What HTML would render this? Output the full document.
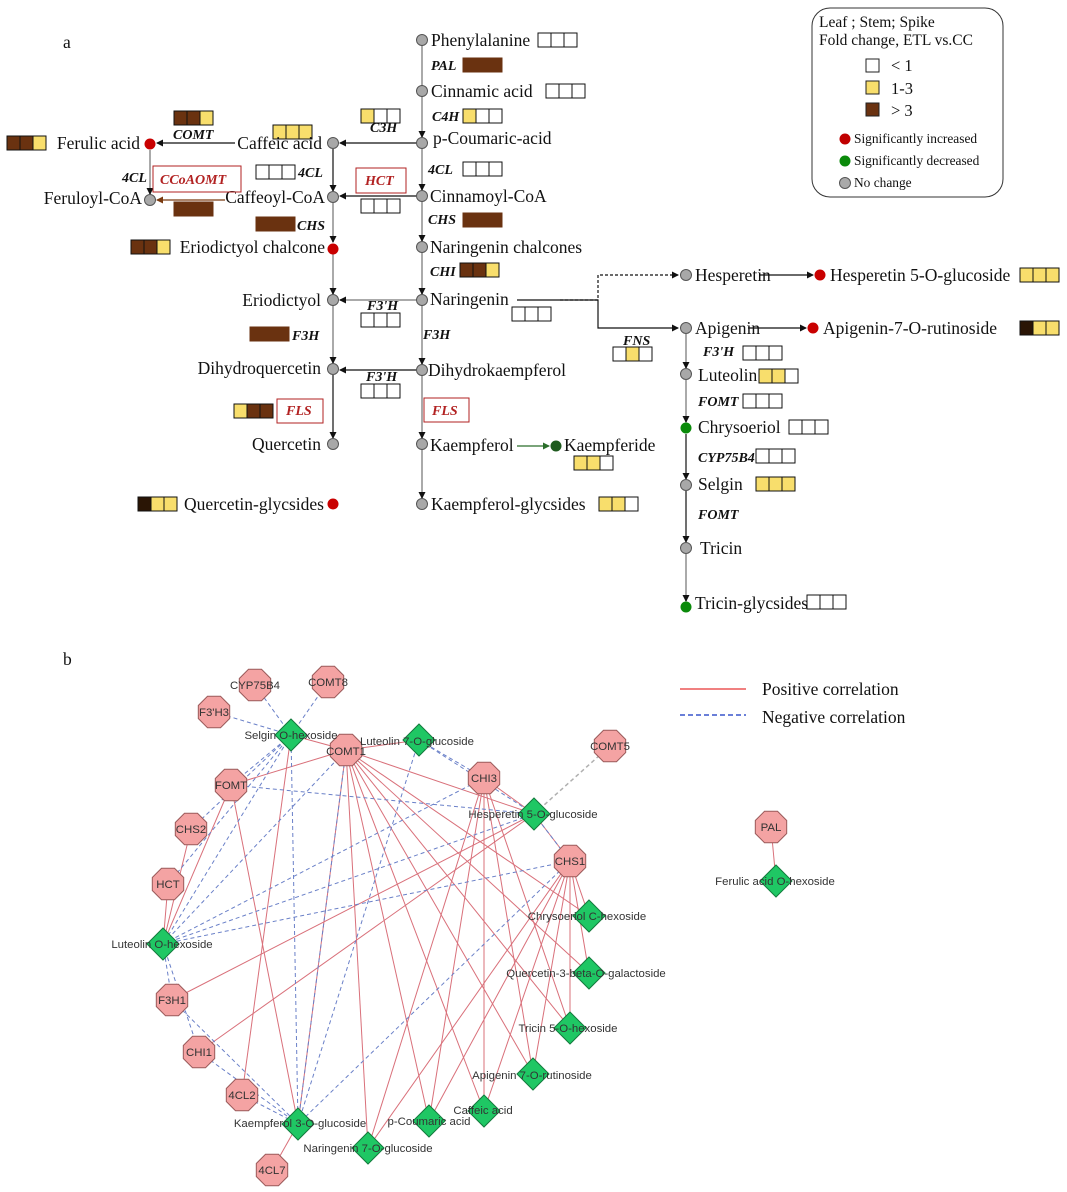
<!DOCTYPE html>
<html><head><meta charset="utf-8">
<style>
html,body{margin:0;padding:0;background:#fff;}
svg{display:block;}
.t{font-family:"Liberation Serif",serif;font-size:17.5px;fill:#111;}
.tr{font-family:"Liberation Serif",serif;font-size:17.5px;fill:#111;text-anchor:end;}
.e{font-family:"Liberation Serif",serif;font-size:14px;font-weight:bold;font-style:italic;fill:#111;}
.er{font-family:"Liberation Serif",serif;font-size:14px;font-weight:bold;font-style:italic;fill:#b22222;}
.lg{font-family:"Liberation Serif",serif;font-size:13.4px;fill:#111;}
.n{font-family:"Liberation Sans",sans-serif;font-size:11.4px;fill:#333;}
.nc{font-family:"Liberation Sans",sans-serif;font-size:11.4px;fill:#333;text-anchor:middle;}
</style></head>
<body>
<svg id="s" width="1067" height="1192" viewBox="0 0 1067 1192" xmlns="http://www.w3.org/2000/svg">
<defs>
<marker id="a" markerUnits="userSpaceOnUse" markerWidth="7" markerHeight="7" refX="6" refY="3.5" orient="auto"><path d="M0,0L7,3.5L0,7z" fill="#111"/></marker>
<marker id="ag" markerUnits="userSpaceOnUse" markerWidth="7" markerHeight="7" refX="6" refY="3.5" orient="auto"><path d="M0,0L7,3.5L0,7z" fill="#2a6e2a"/></marker>
<marker id="ab" markerUnits="userSpaceOnUse" markerWidth="7" markerHeight="7" refX="6" refY="3.5" orient="auto"><path d="M0,0L7,3.5L0,7z" fill="#7a3a10"/></marker>
</defs>
<text x="63" y="48" class="t" font-size="19">a</text>
<text x="63" y="665" class="t" font-size="19">b</text>

<g stroke="#aaa" stroke-width="2" fill="none">
<line x1="422" y1="45" x2="422" y2="137" marker-end="url(#a)"/>
<line x1="422" y1="148" x2="422" y2="190" marker-end="url(#a)"/>
<line x1="422" y1="201" x2="422" y2="241" marker-end="url(#a)"/>
<line x1="422" y1="252" x2="422" y2="294" marker-end="url(#a)"/>
<line x1="422" y1="305" x2="422" y2="364" marker-end="url(#a)"/>
<line x1="422" y1="375" x2="422" y2="438" marker-end="url(#a)"/>
<line x1="422" y1="449" x2="422" y2="498" marker-end="url(#a)"/>
<line x1="333" y1="253" x2="333" y2="294" marker-end="url(#a)"/>
<line x1="333" y1="305" x2="333" y2="363" marker-end="url(#a)"/>
<line x1="333" y1="203" x2="333" y2="242" marker-end="url(#a)"/>
<line x1="416" y1="300" x2="340" y2="300" marker-end="url(#a)"/>
<line x1="150" y1="150" x2="150" y2="194" marker-end="url(#a)"/>
<line x1="686" y1="334" x2="686" y2="368" marker-end="url(#a)"/>
<line x1="686" y1="380" x2="686" y2="422" marker-end="url(#a)"/>
<line x1="686" y1="554" x2="686" y2="601" marker-end="url(#a)"/>
</g>
<g stroke="#111" stroke-width="1.2" fill="none">
<line x1="416" y1="143" x2="340" y2="143" marker-end="url(#a)"/>
<line x1="235" y1="143" x2="157" y2="143" marker-end="url(#a)"/>
<line x1="416" y1="196" x2="340" y2="196" marker-end="url(#a)"/>
<line x1="333" y1="149" x2="333" y2="191" marker-end="url(#a)"/>
<line x1="416" y1="370" x2="340" y2="370" marker-end="url(#a)"/>
<line x1="333" y1="375" x2="333" y2="438" marker-end="url(#a)"/>
<line x1="686" y1="434" x2="686" y2="479" marker-end="url(#a)"/>
<line x1="686" y1="491" x2="686" y2="542" marker-end="url(#a)"/>
<line x1="760" y1="275" x2="813" y2="275" marker-end="url(#a)"/>
<line x1="748" y1="328" x2="806" y2="328" marker-end="url(#a)"/>
<path d="M517,300 H598 V328 H678" marker-end="url(#a)"/>
<path d="M560,300 H598 V275 H678" stroke-dasharray="3,2" marker-end="url(#a)"/>
</g>
<line x1="517" y1="446" x2="549" y2="446" stroke="#2a6e2a" stroke-width="1.2" marker-end="url(#ag)"/>
<line x1="225" y1="200" x2="157" y2="200" stroke="#7a3a10" stroke-width="1.2" marker-end="url(#ab)"/>

<g id="nodes" stroke="#555" stroke-width="1"></g>
<g id="boxes"></g>

<g class="t">
<text x="431" y="46">Phenylalanine</text>
<text x="431" y="97">Cinnamic acid</text>
<text x="433" y="144">p-Coumaric-acid</text>
<text x="430" y="202">Cinnamoyl-CoA</text>
<text x="430" y="253">Naringenin chalcones</text>
<text x="430" y="305">Naringenin</text>
<text x="428" y="376">Dihydrokaempferol</text>
<text x="430" y="451">Kaempferol</text>
<text x="431" y="510">Kaempferol-glycsides</text>
<text x="564" y="451">Kaempferide</text>
<text x="695" y="281">Hesperetin</text>
<text x="830" y="281">Hesperetin 5-O-glucoside</text>
<text x="695" y="334">Apigenin</text>
<text x="823" y="334">Apigenin-7-O-rutinoside</text>
<text x="698" y="381">Luteolin</text>
<text x="698" y="433">Chrysoeriol</text>
<text x="698" y="490">Selgin</text>
<text x="700" y="554">Tricin</text>
<text x="695" y="609">Tricin-glycsides</text>
</g>
<g class="tr">
<text x="322" y="149">Caffeic acid</text>
<text x="325" y="203">Caffeoyl-CoA</text>
<text x="325" y="253">Eriodictyol chalcone</text>
<text x="321" y="306">Eriodictyol</text>
<text x="321" y="374">Dihydroquercetin</text>
<text x="321" y="450">Quercetin</text>
<text x="324" y="510">Quercetin-glycsides</text>
<text x="140" y="149">Ferulic acid</text>
<text x="142" y="204">Feruloyl-CoA</text>
</g>
<g class="e">
<text x="431" y="70">PAL</text>
<text x="432" y="121">C4H</text>
<text x="370" y="132">C3H</text>
<text x="173" y="139">COMT</text>
<text x="122" y="182">4CL</text>
<text x="298" y="177">4CL</text>
<text x="428" y="174">4CL</text>
<text x="297" y="230">CHS</text>
<text x="428" y="224">CHS</text>
<text x="430" y="276">CHI</text>
<text x="367" y="310">F3'H</text>
<text x="423" y="339">F3H</text>
<text x="292" y="340">F3H</text>
<text x="366" y="381">F3'H</text>
<text x="623" y="345">FNS</text>
<text x="703" y="356">F3'H</text>
<text x="698" y="406">FOMT</text>
<text x="698" y="462">CYP75B4</text>
<text x="698" y="519">FOMT</text>
</g>
<g fill="none" stroke="#b22222" stroke-width="1">
<rect x="153" y="166" width="88" height="26"/>
<rect x="356" y="168" width="50" height="25"/>
<rect x="277" y="399" width="46" height="24"/>
<rect x="424" y="398" width="45" height="24"/>
</g>
<g class="er">
<text x="160" y="184">CCoAOMT</text>
<text x="365" y="185">HCT</text>
<text x="286" y="415">FLS</text>
<text x="432" y="415">FLS</text>
</g>

<rect x="812" y="8" width="191" height="189" rx="18" fill="#fff" stroke="#333" stroke-width="1"/>
<g class="lg">
<text x="819" y="27" font-size="15.5">Leaf ; Stem; Spike</text>
<text x="819" y="45" font-size="15.5">Fold change, ETL vs.CC</text>
<text x="891" y="71" font-size="16.5">&lt; 1</text>
<text x="891" y="94" font-size="16.5">1-3</text>
<text x="891" y="116" font-size="16.5">&gt; 3</text>
<text x="854" y="143">Significantly increased</text>
<text x="854" y="165">Significantly decreased</text>
<text x="854" y="187">No change</text>
</g>
<rect x="866" y="59" width="13" height="13" fill="#fff" stroke="#222"/>
<rect x="866" y="81" width="13" height="13" fill="#f8de6c" stroke="#222"/>
<rect x="866" y="103" width="13" height="13" fill="#6a3210" stroke="#222"/>
<circle cx="845" cy="139" r="5.5" fill="#c00000"/>
<circle cx="845" cy="161" r="5.5" fill="#0b8a0b"/>
<circle cx="845" cy="183" r="5.5" fill="#aaa" stroke="#555"/>

<!-- network -->
<g id="edges"></g>
<g id="nnodes"></g>
<g class="nc">
<text x="255" y="689">CYP75B4</text>
<text x="328" y="686">COMT8</text>
<text x="214" y="716">F3'H3</text>
<text x="346" y="755">COMT1</text>
<text x="610" y="750">COMT5</text>
<text x="231" y="789">FOMT</text>
<text x="484" y="782">CHI3</text>
<text x="191" y="833">CHS2</text>
<text x="570" y="865">CHS1</text>
<text x="168" y="888">HCT</text>
<text x="172" y="1004">F3H1</text>
<text x="199" y="1056">CHI1</text>
<text x="242" y="1099">4CL2</text>
<text x="272" y="1174">4CL7</text>
<text x="771" y="831">PAL</text>
<text x="291" y="739">Selgin O-hexoside</text>
<text x="417" y="745">Luteolin 7-O-glucoside</text>
<text x="533" y="818">Hesperetin 5-O-glucoside</text>
<text x="162" y="948">Luteolin O-hexoside</text>
<text x="587" y="920">Chrysoeriol C-hexoside</text>
<text x="586" y="977">Quercetin-3-beta-O-galactoside</text>
<text x="568" y="1032">Tricin 5-O-hexoside</text>
<text x="532" y="1079">Apigenin 7-O-rutinoside</text>
<text x="483" y="1114">Caffeic acid</text>
<text x="429" y="1125">p-Coumaric acid</text>
<text x="300" y="1127">Kaempferol 3-O-glucoside</text>
<text x="368" y="1152">Naringenin 7-O-glucoside</text>
<text x="775" y="885">Ferulic acid O-hexoside</text>
</g>
<line x1="680" y1="689" x2="746" y2="689" stroke="#f08080" stroke-width="2"/>
<line x1="680" y1="715" x2="746" y2="715" stroke="#6a7fd8" stroke-width="2" stroke-dasharray="5,3"/>
<text x="762" y="695" class="t">Positive correlation</text>
<text x="762" y="723" class="t">Negative correlation</text>
</svg>
<script>
(function(){
var NS="http://www.w3.org/2000/svg";
function el(p,t,a){var e=document.createElementNS(NS,t);for(var k in a)e.setAttribute(k,a[k]);p.appendChild(e);return e;}
var C={w:"#fff",y:"#f8de6c",b:"#6a3210",k:"#2a1505"};
var B=document.getElementById("boxes");
var boxes=[[538,33,"www"],[463,58,"bbb"],[546,84,"www"],[463,109,"yww"],[361,109,"yww"],[273,125,"yyy"],[174,111,"bby"],[7,136,"bby"],[256,165,"www"],[463,162,"www"],[361,199,"www"],[174,202,"bbb"],[256,217,"bbb"],[463,213,"bbb"],[131,240,"bby"],[460,263,"bby"],[512,307,"www"],[361,313,"www"],[250,327,"bbb"],[361,384,"www"],[613,347,"wyw"],[743,346,"www"],[759,369,"yyw"],[743,394,"www"],[789,420,"www"],[756,449,"www"],[756,477,"yyy"],[807,595,"www"],[574,456,"yyw"],[599,497,"yyw"],[234,404,"ybb"],[138,497,"kyy"],[1020,268,"yyy"],[1020,321,"kyy"]];
boxes.forEach(function(b){var cs=b[2];var allb=cs==="bbb";
 for(var i=0;i<3;i++){el(B,"rect",{x:b[0]+i*13,y:b[1],width:13,height:14,fill:C[cs[i]],stroke:allb?"#6a3210":"#111","stroke-width":1});}});
var N=document.getElementById("nodes");
var nodes=[[422,40,"g"],[422,91,"g"],[422,143,"g"],[422,196,"g"],[422,247,"g"],[422,300,"g"],[422,370,"g"],[422,444,"g"],[422,504,"g"],[333,143,"g"],[333,197,"g"],[333,249,"r"],[333,300,"g"],[333,369,"g"],[333,444,"g"],[333,504,"r"],[150,144,"r"],[150,200,"g"],[686,275,"g"],[686,328,"g"],[686,374,"g"],[686,428,"v"],[686,485,"g"],[686,548,"g"],[686,607,"v"],[820,275,"r"],[813,328,"r"],[556,446,"d"]];
var F={g:"#a8a8a8",r:"#c90000",v:"#0a8a0a",d:"#1e5a1e"};
nodes.forEach(function(n){el(N,"circle",{cx:n[0],cy:n[1],r:5.5,fill:F[n[2]],stroke:n[2]=="g"?"#555":"none"});});
var P={CYP:[255,685],C8:[328,682],F3:[214,712],C1:[346,750],FO:[231,785],CHI3:[484,778],C5:[610,746],CHS2:[191,829],CHS1:[570,861],HCT:[168,884],F3H1:[172,1000],CHI1:[199,1052],CL2:[242,1095],CL7:[272,1170],PAL:[771,827]};
var D={SE:[291,735],L7:[419,740],HE:[534,814],LO:[163,944],CH:[589,916],QU:[589,973],TR:[570,1028],AP:[533,1074],CA:[484,1111],PC:[429,1121],KA:[298,1124],NA:[368,1148],FE:[776,881]};
function g(k){return P[k]||D[k];}
var red=[["C1","SE"],["C1","L7"],["C1","FO"],["C1","HE"],["C1","CH"],["C1","QU"],["C1","TR"],["C1","AP"],["C1","CA"],["C1","PC"],["C1","NA"],["C1","KA"],["CHI3","HE"],["CHI3","CA"],["CHI3","PC"],["CHI3","NA"],["CHI3","AP"],["CHI3","TR"],["CHS1","HE"],["CHS1","CH"],["CHS1","QU"],["CHS1","TR"],["CHS1","AP"],["CHS1","CA"],["CHS1","PC"],["CHS1","NA"],["FO","LO"],["FO","KA"],["SE","CL2"],["F3H1","HE"],["CHI1","HE"],["CHS2","LO"],["HCT","LO"],["CL7","KA"],["PAL","FE"]];
var blue=[["SE","CYP"],["SE","C8"],["SE","F3"],["SE","FO"],["SE","CHS2"],["SE","LO"],["SE","HCT"],["LO","C1"],["LO","CHS1"],["LO","HE"],["LO","F3H1"],["LO","CHI3"],["C1","KA"],["L7","CHI3"],["L7","HE"],["L7","KA"],["FO","HE"],["CHS1","KA"],["F3H1","KA"],["CHI1","KA"],["CL2","KA"],["CHS1","HE"],["SE","KA"],["LO","CHI1"]];
var E=document.getElementById("edges");
red.forEach(function(e){var a=g(e[0]),b=g(e[1]);el(E,"line",{x1:a[0],y1:a[1],x2:b[0],y2:b[1],stroke:"#d9707a","stroke-width":1});});
blue.forEach(function(e){var a=g(e[0]),b=g(e[1]);el(E,"line",{x1:a[0],y1:a[1],x2:b[0],y2:b[1],stroke:"#6a80c8","stroke-width":1,"stroke-dasharray":"4,3"});});
var a=P.C5,b=D.HE;el(E,"line",{x1:a[0],y1:a[1],x2:b[0],y2:b[1],stroke:"#b0b0b0","stroke-width":1.5,"stroke-dasharray":"4,3"});
var NN=document.getElementById("nnodes");
for(var k in P){var c=P[k],r=17,pts=[];for(var i=0;i<8;i++){var t=Math.PI/8+i*Math.PI/4;pts.push((c[0]+r*Math.cos(t)).toFixed(1)+","+(c[1]+r*Math.sin(t)).toFixed(1));}
 el(NN,"polygon",{points:pts.join(" "),fill:"#f4a3a3",stroke:"#9a5a5a","stroke-width":1});}
for(var k in D){var c=D[k],r=16;el(NN,"polygon",{points:(c[0])+","+(c[1]-r)+" "+(c[0]+r)+","+c[1]+" "+c[0]+","+(c[1]+r)+" "+(c[0]-r)+","+c[1],fill:"#1fc764",stroke:"#127a3c","stroke-width":1});}
})();
</script>
</body></html>
